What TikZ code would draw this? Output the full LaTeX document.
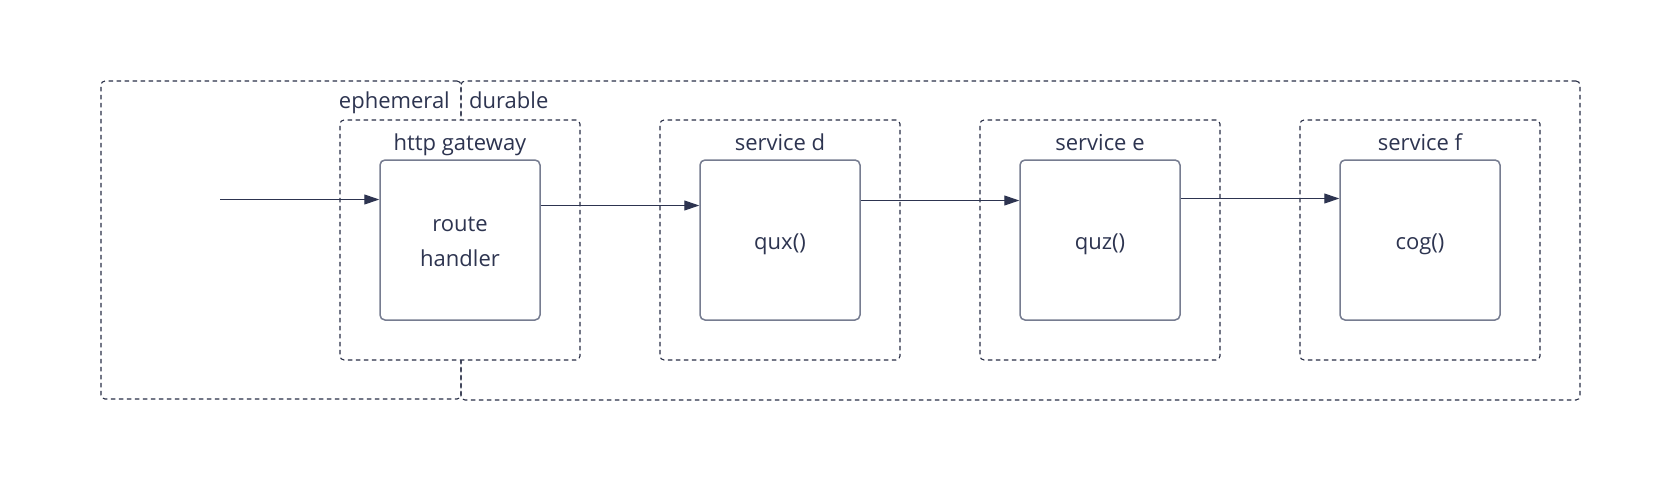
\documentclass[tikz,border=0pt]{standalone}
\usepackage{fontspec}
\setmainfont{Open Sans}
\usetikzlibrary{arrows.meta}
\definecolor{ink}{RGB}{45,52,80}
\definecolor{edge}{RGB}{40,46,70}
\definecolor{boxgray}{RGB}{118,124,144}
\begin{document}
\begin{tikzpicture}[x=1pt,y=-1pt,
  font=\fontsize{22}{35}\selectfont, text=ink,
  dbox/.style={draw=edge, line width=1.1pt, dash pattern=on 4.5pt off 3.5pt, rounded corners=4pt, inner sep=0pt},
  svc/.style={dbox, fill=white, minimum width=240pt, minimum height=240pt},
  fnbox/.style={draw=boxgray, line width=1.5pt, rounded corners=5pt, fill=white, minimum width=160pt, minimum height=160pt, inner sep=0pt},
  lbl/.style={anchor=base, inner sep=0pt},
  arr/.style={draw=ink, line width=1.1pt, -{Triangle[length=15pt,width=10pt]}}]
\useasboundingbox (0,0) rectangle (1680,480);
% zones
\node[dbox, minimum width=360pt, minimum height=318pt] (eph) at (281,240) {};
\node[dbox, minimum width=1119pt, minimum height=319pt] (dur) at (1020.5,240.5) {};
\node[lbl, anchor=base east] (ephl) at (450,108) {ephemeral};
\node[lbl, anchor=base west] (durl) at (469,108) {durable};
% service containers
\node[svc] (gw) at (460,240) {};
\node[svc] (sd) at (780,240) {};
\node[svc] (se) at (1100,240) {};
\node[svc] (sf) at (1420,240) {};
\node[lbl] (gwl) at (460,150) {http gateway};
\node[lbl] (sdl) at (780,150) {service d};
\node[lbl] (sel) at (1100,150) {service e};
\node[lbl] (sfl) at (1420,150) {service f};
% functions
\node[fnbox] (rh) at (460,240) {};
\node[fnbox] (qux) at (780,240) {};
\node[fnbox] (quz) at (1100,240) {};
\node[fnbox] (cog) at (1420,240) {};
\node[lbl] (rht1) at (460,231.5) {route};
\node[lbl] (rht2) at (460,266.5) {handler};
\node[lbl] (quxt) at (780,249) {qux()};
\node[lbl] (quzt) at (1100,249) {quz()};
\node[lbl] (cogt) at (1420,249) {cog()};
% connectors
\coordinate (src) at (220,199.5);
\draw[arr] (src) -- (rh.west |- src);
\draw[arr] (rh.east |- 0,205.5) -- (qux.west |- 0,205.5);
\draw[arr] (qux.east |- 0,200.5) -- (quz.west |- 0,200.5);
\draw[arr] (quz.east |- 0,198.5) -- (cog.west |- 0,198.5);
\end{tikzpicture}
\end{document}
